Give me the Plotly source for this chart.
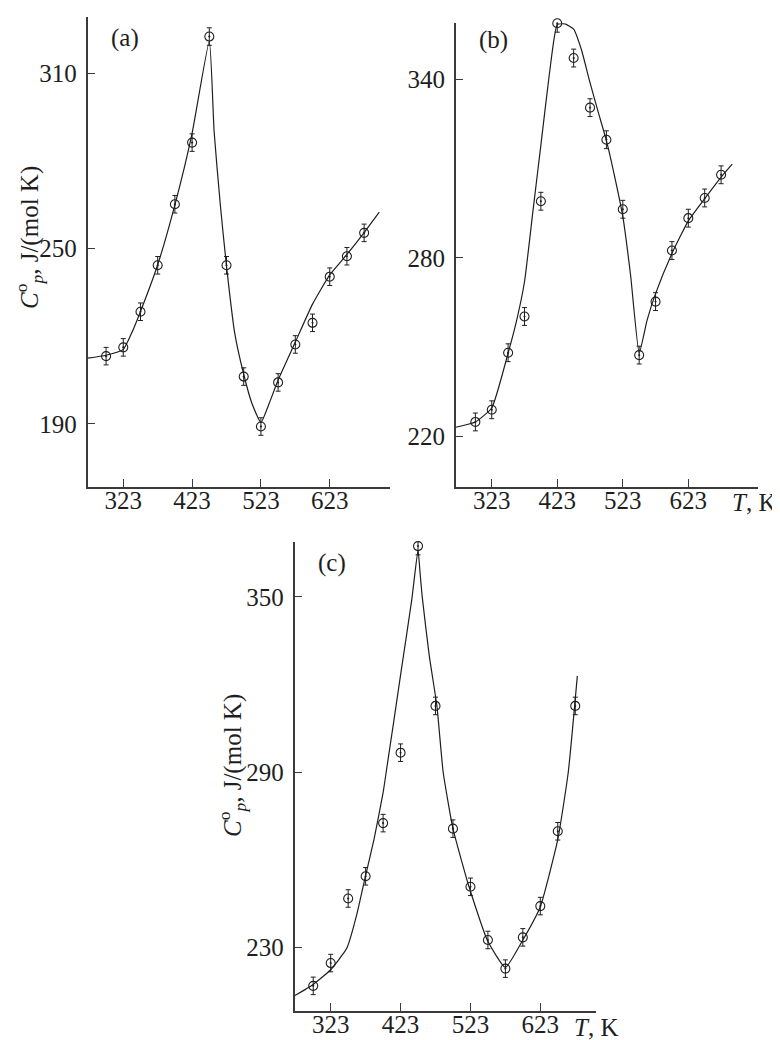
import plotly.graph_objects as go

# ---------------- data ----------------
T_points = [298, 323, 348, 373, 398, 423, 448, 473, 498, 523, 548, 573, 598, 623, 648, 673]

cp_a = [213.2, 216.2, 228.4, 244.3, 265.2, 286.3, 322.6, 244.3, 206.2, 189.1,
        204.2, 217.2, 224.6, 240.4, 247.4, 255.4]
cp_b = [224.8, 228.9, 248.1, 260.3, 299.1, 359.0, 347.3, 330.6, 319.8, 296.4,
        247.3, 265.3, 282.5, 293.4, 300.2, 308.0]
cp_c = [216.9, 224.7, 246.8, 254.4, 272.6, 296.7, 367.4, 312.7, 270.7, 250.8,
        232.6, 222.8, 233.5, 244.2, 269.8, 312.7]
cp_err = [3] * 16

fit_a_T = [271, 298, 323, 335, 348, 373, 398, 423, 448, 455, 464, 473, 485, 498,
           510, 523, 535, 548, 573, 598, 623, 648, 673, 695]
fit_a = [212.5, 213.5, 215.5, 221, 228.5, 244.5, 265, 289.5, 321, 290, 265, 244,
         221, 207, 197, 190.5, 197, 205, 218, 231, 241, 248, 255.5, 262.5]

fit_b_T = [268, 298, 323, 348, 361, 373, 386, 398, 411, 423, 435, 448, 460, 473,
           485, 498, 510, 523, 535, 548, 560, 573, 598, 623, 648, 674, 690]
fit_b = [223, 224.8, 229.5, 248, 259, 272, 296, 318, 342, 358.6, 358.8, 357, 350,
         339, 329.5, 319.5, 308, 294, 274, 248, 259, 268, 281.5, 292.5, 300, 307.5,
         311.6]

fit_c_T = [271, 298, 323, 343, 347, 360, 373, 385, 398, 403, 413, 425, 439, 448,
           451, 454, 464, 475, 484, 498, 521, 547, 573, 598, 623, 648, 663, 676]
fit_c = [213.5, 217.4, 222.4, 228.6, 230.3, 241, 254.7, 267, 283, 291, 307, 326.5,
         349, 366, 358, 350, 330, 312.7, 290, 270.7, 250.8, 232.6, 223.2, 232.6,
         244, 267, 290, 323]

x_ticks = [323, 423, 523, 623]
y_ticks_a = [190, 250, 310]
y_ticks_b = [220, 280, 340]
y_ticks_c = [230, 290, 350]

# ---------------- figure ----------------
# the page body adds an 8 px margin, so the figure is 8 px smaller than the window
OFF = 8
W, H = 780 - OFF, 1040 - OFF
FONT = "Liberation Serif"
INK = "#1e1e1e"
AX = "#3a3a3a"
FS = 25

fig = go.Figure()

panels = [
    ("x", "y", fit_a_T, fit_a, cp_a),
    ("x2", "y2", fit_b_T, fit_b, cp_b),
    ("x3", "y3", fit_c_T, fit_c, cp_c),
]
for xa, ya, fT, fv, pts in panels:
    fig.add_trace(go.Scatter(
        x=fT, y=fv, xaxis=xa, yaxis=ya, mode="lines",
        line=dict(color=INK, width=1.2, shape="spline", smoothing=0.45),
        showlegend=False, hoverinfo="skip", cliponaxis=False))
    fig.add_trace(go.Scatter(
        x=T_points, y=pts, xaxis=xa, yaxis=ya, mode="markers",
        marker=dict(symbol="circle-open-dot", size=9, color=INK,
                    line=dict(width=1.1, color=INK)),
        error_y=dict(type="data", array=cp_err, visible=True,
                     color=INK, thickness=1, width=2.5),
        showlegend=False, cliponaxis=False))


def px_x(s):
    return (s - OFF) / W


def px_y(s):
    return 1 - (s - OFF) / H


common = dict(ticks="inside", ticklen=8, tickwidth=1.4, tickcolor=AX,
              showline=True, linecolor=AX, linewidth=1.5,
              showgrid=False, zeroline=False,
              tickfont=dict(family=FONT, size=FS, color=INK))


def xaxis(domain, rng, anchor):
    return dict(domain=domain, range=rng, anchor=anchor,
                tickvals=x_ticks, ticktext=[str(v) for v in x_ticks],
                ticklabelstandoff=-9, **common)


def yaxis(domain, rng, anchor, tv):
    return dict(domain=domain, range=rng, anchor=anchor,
                tickvals=tv, ticktext=[str(v) for v in tv],
                ticklabelstandoff=4, **common)


fig.update_layout(
    width=W, height=H,
    margin=dict(l=0, r=0, t=0, b=0),
    paper_bgcolor="white", plot_bgcolor="white",
    xaxis=xaxis([px_x(87.5), px_x(390)], [271, 710.6], "y"),
    yaxis=yaxis([px_y(486.7), px_y(17)], [168.5, 329.3], "x", y_ticks_a),
    xaxis2=xaxis([px_x(455.7), px_x(758.3)], [268, 729.8], "y2"),
    yaxis2=yaxis([px_y(486.7), px_y(23.3)], [203, 359], "x2", y_ticks_b),
    xaxis3=xaxis([px_x(294.5), px_x(596)], [271.2, 702.7], "y3"),
    yaxis3=yaxis([px_y(1010.7), px_y(541.7)], [208.4, 368.9], "x3", y_ticks_c),
)

ytitle = "<i>C</i><sup>o</sup><sub><i>p</i></sub>, J/(mol K)"
tk = "<i>T</i>, K"
ann = [
    dict(text="(a)", x=px_x(125), y=px_y(38)),
    dict(text="(b)", x=px_x(493), y=px_y(40)),
    dict(text="(c)", x=px_x(332), y=px_y(563)),
    dict(text=ytitle, x=px_x(29), y=px_y(238), textangle=-90),
    dict(text=ytitle, x=px_x(232), y=px_y(765), textangle=-90),
    dict(text=tk, x=px_x(731), y=px_y(503), xanchor="left"),
    dict(text=tk, x=px_x(573), y=px_y(1027), xanchor="left"),
]
for a in ann:
    base = dict(xref="paper", yref="paper", showarrow=False,
                xanchor="center", yanchor="middle", borderpad=0,
                font=dict(family=FONT, size=FS, color=INK))
    base.update(a)
    fig.add_annotation(**base)

fig.write_html("out.html")
